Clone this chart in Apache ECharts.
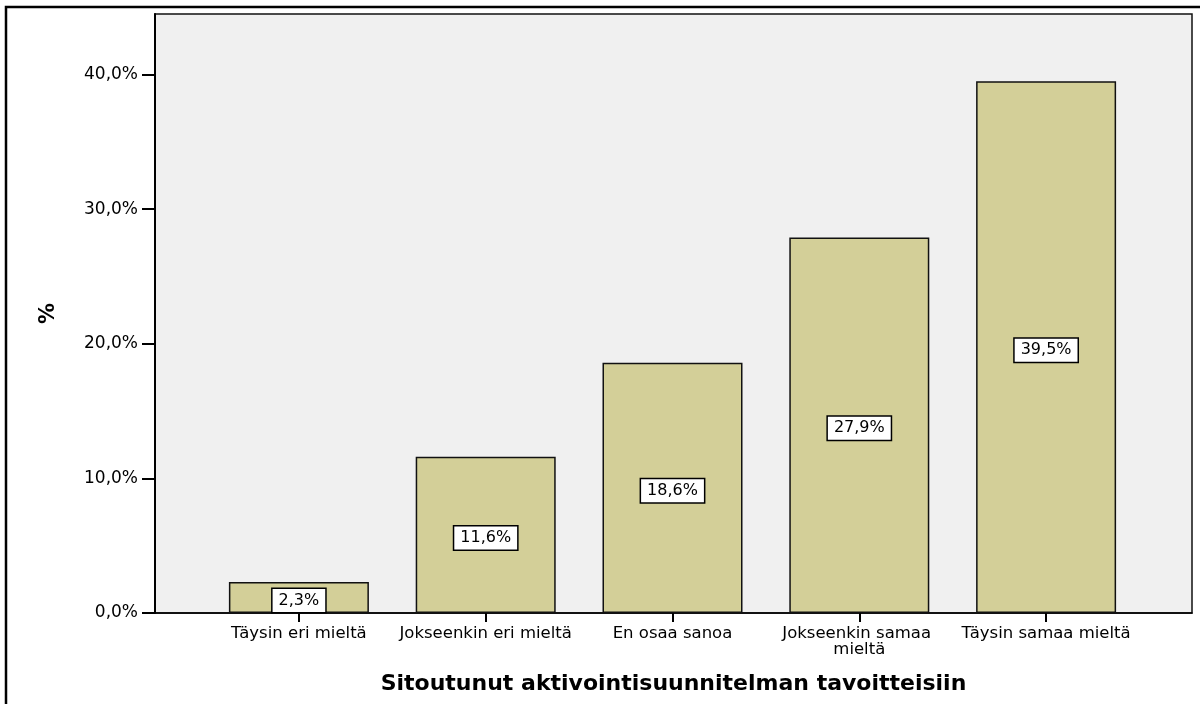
<!DOCTYPE html>
<html>
<head>
<meta charset="utf-8">
<script src="https://cdn.jsdelivr.net/npm/echarts@6/dist/echarts.min.js"></script>
<style>
  html, body { margin: 0; padding: 0; background: #fff; }
  #chart { width: 1200px; height: 704px; }
</style>
</head>
<body>
<div id="chart"></div>
<script>
var categories = ['Täysin eri mieltä', 'Jokseenkin eri mieltä', 'En osaa sanoa', 'Jokseenkin samaa mieltä', 'Täysin samaa mieltä']
var percents = [2.3, 11.6, 18.6, 27.9, 39.5]
var yTicks = [0, 10, 20, 30, 40]

var fmt = function (v) {
    return v.toFixed(1).replace('.', ',') + '%'
}

var chart = echarts.init(document.getElementById('chart'))
var yMax = 44.5

var option = {
    backgroundColor: '#fff',
    animation: false,
    textStyle: { fontFamily: 'DejaVu Sans' },
    graphic: [
        {
            type: 'rect',
            shape: { x: 6, y: 7, width: 1200, height: 710 },
            style: { fill: 'none', stroke: '#000', lineWidth: 2.5 },
            z: 100
        }
    ],
    grid: [
        {
            left: 155, right: 8, top: 14, bottom: 91,
            show: true,
            backgroundColor: '#f0f0f0',
            borderColor: '#111',
            borderWidth: 1.5
        },
        {
            left: 205.5, right: 60.5, top: 14, bottom: 91
        }
    ],
    xAxis: [
        {
            gridIndex: 0,
            type: 'value',
            min: 0,
            max: 1,
            splitLine: { show: false },
            axisLabel: { show: false },
            axisTick: { show: false },
            axisLine: { show: true, lineStyle: { color: '#000', width: 1.5 } },
            name: 'Sitoutunut aktivointisuunnitelman tavoitteisiin',
            nameLocation: 'middle',
            nameGap: 60,
            nameTextStyle: { color: '#000', fontSize: 22, fontWeight: 'bold', fontFamily: 'DejaVu Sans' }
        },
        {
            gridIndex: 1,
            type: 'category',
            data: categories,
            axisLine: { show: false },
            axisTick: { show: true, alignWithLabel: true, length: 9, lineStyle: { color: '#000', width: 2 } },
            axisLabel: {
                interval: 0,
                color: '#000',
                fontSize: 16.5,
                fontFamily: 'DejaVu Sans',
                margin: 13,
                lineHeight: 16,
                width: 190,
                overflow: 'break'
            }
        }
    ],
    yAxis: [
        {
            gridIndex: 0,
            type: 'value',
            min: 0,
            max: yMax,
            interval: 10,
            splitLine: { show: false },
            axisLine: { show: true, lineStyle: { color: '#000', width: 2 } },
            axisTick: { show: true, length: 13, customValues: yTicks, lineStyle: { color: '#000', width: 2 } },
            axisLabel: {
                color: '#000',
                fontSize: 17,
                fontFamily: 'DejaVu Sans',
                margin: 17,
                customValues: yTicks,
                formatter: function (v) { return fmt(v) }
            },
            name: '%',
            nameLocation: 'middle',
            nameGap: 96,
            nameRotate: 90,
            nameTextStyle: { color: '#000', fontSize: 21, fontWeight: 'bold', fontFamily: 'DejaVu Sans' }
        },
        {
            gridIndex: 1,
            type: 'value',
            min: 0,
            max: yMax,
            show: false
        }
    ],
    series: [
        {
            type: 'bar',
            xAxisIndex: 1,
            yAxisIndex: 1,
            data: percents,
            barWidth: 140,
            itemStyle: {
                color: '#d3cf98',
                borderColor: '#111',
                borderWidth: 1.5
            },
            label: {
                show: true,
                position: 'inside',
                offset: [0, 3],
                formatter: function (p) { return fmt(p.value) },
                color: '#000',
                fontSize: 16,
                fontFamily: 'DejaVu Sans',
                backgroundColor: '#fff',
                borderColor: '#000',
                borderWidth: 1.5,
                padding: [4, 6, 3, 6]
            }
        }
    ]
}

chart.setOption(option, true)
</script>
</body>
</html>
